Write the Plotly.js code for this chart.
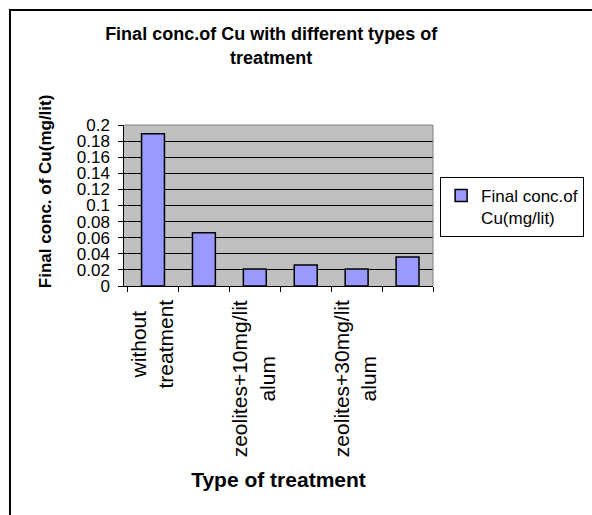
<!DOCTYPE html>
<html><head><meta charset="utf-8">
<script src="https://cdn.plot.ly/plotly-3.0.1.min.js"></script>
<style>html,body{margin:0;padding:0;background:#fff}</style>
</head><body><div id="chart" style="width:592px;height:515px"></div>
<script>
const categories = ["without treatment", "zeolites", "zeolites+10mg/lit alum", "zeolites+20mg/lit alum", "zeolites+30mg/lit alum", "zeolites+40mg/lit alum"];
const cuValues = [0.189, 0.066, 0.021, 0.026, 0.021, 0.036];
const tickLabels = ["without<br>treatment", "", "zeolites+10mg/lit<br>alum", "", "zeolites+30mg/lit<br>alum", ""];
const seriesName = "Final conc.of<br>Cu(mg/lit)";
const chartTitle = "Final conc.of Cu with different types of<br>treatment";
const xTitle = "Type of treatment";
const yTitle = "Final conc. of Cu(mg/lit)";

const FONT = "Arial, 'Liberation Sans', sans-serif";

const trace = {
  type: "bar",
  x: categories,
  y: cuValues,
  name: seriesName,
  marker: {color: "#9999ff", line: {color: "#000000", width: 1.5}},
  showlegend: true,
  hoverinfo: "x+y"
};

const labelAnnotations = [];
tickLabels.forEach((t, i) => {
  if (!t) return;
  labelAnnotations.push({
    x: categories[i], y: 0, xref: "x", yref: "paper",
    text: t, textangle: -90, showarrow: false,
    xanchor: "center", yanchor: "top", yshift: -12, xshift: -2, align: "center",
    font: {family: FONT, size: 21, color: "#000"}
  });
});

const layout = {
  width: 592, height: 515,
  margin: {l: 124, r: 159, t: 125, b: 229, pad: 0, autoexpand: false},
  paper_bgcolor: "#ffffff",
  plot_bgcolor: "#c0c0c0",
  font: {family: FONT, color: "#000"},
  title: {
    text: chartTitle,
    font: {family: FONT, size: 18, color: "#000", weight: "bold"},
    x: 0.458, xanchor: "center", xref: "container",
    y: 0.922, yanchor: "top", yref: "container"
  },
  bargap: 0.55,
  xaxis: {
    type: "category",
    showticklabels: false,
    ticks: "outside", ticklen: 5, tickcolor: "#000", tickwidth: 1,
    tickson: "boundaries",
    showline: true, linecolor: "#000", linewidth: 1,
    showgrid: false, zeroline: false,
    fixedrange: true,
    automargin: false,
    title: {text: xTitle, font: {family: FONT, size: 21, color: "#000", weight: "bold"}, standoff: 186}
  },
  yaxis: {
    range: [0, 0.2], tick0: 0, dtick: 0.02,
    ticks: "outside", ticklen: 5, tickcolor: "#000", tickwidth: 1,
    ticksuffix: "\u00a0",
    tickfont: {family: FONT, size: 17, color: "#000"},
    showline: true, linecolor: "#000", linewidth: 1,
    showgrid: true, gridcolor: "#000", gridwidth: 1,
    zeroline: false, fixedrange: true,
    automargin: false
  },
  legend: {
    x: 1.023, xanchor: "left", y: 0.677, yanchor: "top",
    bgcolor: "#ffffff", bordercolor: "#000", borderwidth: 1,
    font: {family: FONT, size: 17, color: "#000"},
    valign: "top", itemwidth: 30
  },
  annotations: labelAnnotations.concat([{
    x: -0.255, xref: "paper", xanchor: "center",
    y: 0.59, yref: "paper", yanchor: "middle",
    text: "<b>" + yTitle + "</b>", textangle: -90, showarrow: false,
    font: {family: FONT, size: 17, color: "#000"}
  }]),
  shapes: [
    {type: "path", xref: "paper", yref: "paper", path: "M0,1 L1,1 L1,0", line: {color: "#808080", width: 1}, layer: "above"},
    {type: "rect", xref: "paper", yref: "paper", x0: -0.369, x1: 2.2, y0: -2.2, y1: 1.714, line: {color: "#000", width: 2}, layer: "above"}
  ]
};

Plotly.newPlot("chart", [trace], layout, {displayModeBar: false, staticPlot: true});
</script>
</body></html>
